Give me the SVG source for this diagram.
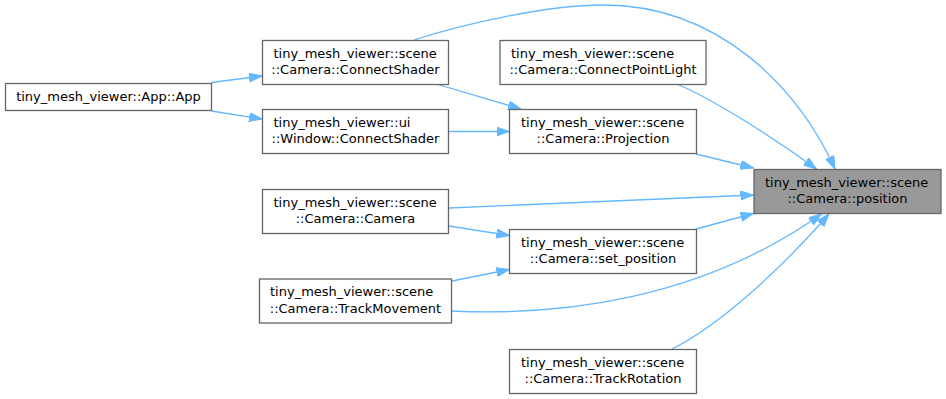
<svg xmlns="http://www.w3.org/2000/svg" width="946" height="399" viewBox="0 0 946 399">
  <style>
    .node rect { fill: #ffffff; stroke: #666666; stroke-width: 1.3; }
    .node.current rect { fill: #999999; }
    .node text { font-family: "DejaVu Sans", "Liberation Sans", sans-serif; font-size: 13px; fill: #000000; }
    .l1 { text-anchor: start; }
    .l2 { text-anchor: middle; }
    .edges path { fill: none; stroke: #63b8ff; stroke-width: 1.3; marker-end: url(#arrow); }
  </style>
  <defs>
    <marker id="arrow" markerUnits="userSpaceOnUse" markerWidth="14" markerHeight="10" refX="13" refY="4.5" orient="auto" viewBox="0 0 14 10">
      <path d="M0,0 L13,4.5 L0,9 Z" fill="#63b8ff" stroke="#63b8ff" stroke-width="1"/>
    </marker>
  </defs>
  <rect width="946" height="399" fill="#ffffff"/>

  <!-- call edges -->
  <g id="edges" class="edges">
    <path d="M211.5,82.5 L262,76"/>
    <path d="M211.5,111 L262,119"/>
    <path d="M438,84.5 L521,109"/>
    <path d="M449,131.5 L509.5,131.5"/>
    <path d="M414,40 C460,25 545,5 603,5 C720,5 800,90 835,169"/>
    <path d="M678,84.5 C710,98 770,135 816.5,169"/>
    <path d="M696,154 L753.5,168"/>
    <path d="M449,208 L753.5,195"/>
    <path d="M449,226 L509.5,235.5"/>
    <path d="M696,229 L753.5,213.5"/>
    <path d="M452,281 L509.5,269.5"/>
    <path d="M452,311 C560,316 700,300 821.5,214"/>
    <path d="M672,349 C720,325 780,270 829,214"/>
  </g>

  <g id="node-app" class="node">
    <rect x="5.5" y="83.5" width="206" height="27"/>
    <text class="l2" x="108.5" y="101">tiny_mesh_viewer::App::App</text>
  </g>
  <g id="node-camera-connectshader" class="node">
    <rect x="262.5" y="40.5" width="186" height="44"/>
    <text class="l1" x="273.5" y="57.5">tiny_mesh_viewer::scene</text>
    <text class="l2" x="355.5" y="74">::Camera::ConnectShader</text>
  </g>
  <g id="node-window-connectshader" class="node">
    <rect x="262.5" y="109.5" width="186" height="44"/>
    <text class="l1" x="273.5" y="126.5">tiny_mesh_viewer::ui</text>
    <text class="l2" x="355.5" y="143">::Window::ConnectShader</text>
  </g>
  <g id="node-camera-camera" class="node">
    <rect x="262.5" y="189.5" width="186" height="44"/>
    <text class="l1" x="273.5" y="206.5">tiny_mesh_viewer::scene</text>
    <text class="l2" x="355.5" y="223">::Camera::Camera</text>
  </g>
  <g id="node-camera-trackmovement" class="node">
    <rect x="259.5" y="279" width="192" height="44"/>
    <text class="l1" x="270" y="296">tiny_mesh_viewer::scene</text>
    <text class="l2" x="355.5" y="312.5">::Camera::TrackMovement</text>
  </g>
  <g id="node-camera-connectpointlight" class="node">
    <rect x="500" y="40.5" width="206" height="44"/>
    <text class="l1" x="511" y="57.5">tiny_mesh_viewer::scene</text>
    <text class="l2" x="603" y="74">::Camera::ConnectPointLight</text>
  </g>
  <g id="node-camera-projection" class="node">
    <rect x="509.5" y="109.5" width="187" height="44"/>
    <text class="l1" x="521" y="126.5">tiny_mesh_viewer::scene</text>
    <text class="l2" x="603" y="143">::Camera::Projection</text>
  </g>
  <g id="node-camera-set-position" class="node">
    <rect x="509.5" y="229.5" width="187" height="44"/>
    <text class="l1" x="521" y="246.5">tiny_mesh_viewer::scene</text>
    <text class="l2" x="603" y="263">::Camera::set_position</text>
  </g>
  <g id="node-camera-trackrotation" class="node">
    <rect x="509.5" y="349.5" width="187" height="44"/>
    <text class="l1" x="521" y="366.5">tiny_mesh_viewer::scene</text>
    <text class="l2" x="603" y="383">::Camera::TrackRotation</text>
  </g>
  <g id="node-camera-position" class="node current">
    <rect x="754" y="169.5" width="187" height="44"/>
    <text class="l1" x="765" y="186.5">tiny_mesh_viewer::scene</text>
    <text class="l2" x="847.5" y="203">::Camera::position</text>
  </g>
</svg>
